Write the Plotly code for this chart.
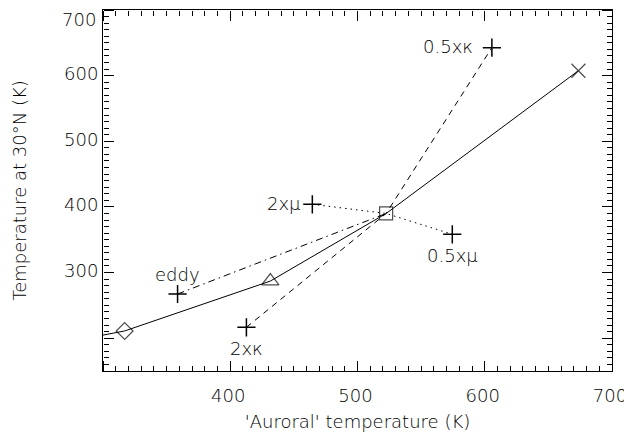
import plotly.graph_objects as go

# Solid reference curve (first point lies just outside the left edge)
solid_x = [290, 317, 431.5, 522.5, 673.6]
solid_y = [201, 211, 287, 390, 607.5]
solid_symbols = ["diamond-open", "triangle-up-open", "square-open", "x-thin-open"]

# Sensitivity runs (through the reference square)
kappa_x = [412.7, 522.5, 605.6]
kappa_y = [216.6, 390, 642.6]
mu_x = [464.5, 522.5, 574.5]
mu_y = [404, 390, 358.3]
eddy_x = [358.6, 522.5]
eddy_y = [267.3, 390]

# Labelled plus points
plus_x = [605.6, 412.7, 358.6, 464.5, 574.5]
plus_y = [642.6, 216.6, 267.3, 404, 358.3]
plus_labels = ["0.5x\u03ba", "2x\u03ba", "eddy", "2x\u03bc", "0.5x\u03bc"]
label_pos = ["left", "below", "above", "left", "below"]

x_range = [300, 700]
y_range = [150, 700]

FONT = "DejaVu Sans"
W = 200
fnt = dict(family=FONT, size=18, color="black", weight=W)
fig = go.Figure()

fig.add_trace(go.Scatter(x=solid_x, y=solid_y, mode="lines",
                         line=dict(color="black", width=1), showlegend=False))
fig.add_trace(go.Scatter(x=kappa_x, y=kappa_y, mode="lines",
                         line=dict(color="black", width=1, dash="6px,5px"), showlegend=False))
fig.add_trace(go.Scatter(x=mu_x, y=mu_y, mode="lines",
                         line=dict(color="black", width=1, dash="1.5px,4px"), showlegend=False))
fig.add_trace(go.Scatter(x=eddy_x, y=eddy_y, mode="lines",
                         line=dict(color="black", width=1, dash="7px,4px,1.5px,4px"), showlegend=False))

sizes = [13, 15, 13, 14]
fig.add_trace(go.Scatter(x=solid_x[1:], y=solid_y[1:], mode="markers",
                         marker=dict(symbol=solid_symbols, size=sizes, color="black",
                                     line=dict(color="black", width=1.2)),
                         showlegend=False))
fig.add_trace(go.Scatter(x=plus_x, y=plus_y, mode="markers",
                         marker=dict(symbol="cross-thin-open", size=13, color="black",
                                     line=dict(color="black", width=1.5)),
                         showlegend=False))
# invisible traces that anchor the tick-only axes
for k in (2, 3, 4, 5):
    fig.add_trace(go.Scatter(x=eddy_x, y=eddy_y, xaxis=f"x{k}", yaxis=f"y{k}", mode="lines",
                             line=dict(width=0), opacity=0, hoverinfo="skip",
                             showlegend=False))

for x, y, t, pos in zip(plus_x, plus_y, plus_labels, label_pos):
    if pos == "left":
        kw = dict(xanchor="right", yanchor="middle", xshift=-17 if t.startswith("0.5") else -9, yshift=1)
    elif pos == "below":
        kw = dict(xanchor="center", yanchor="top", yshift=-9)
    else:
        kw = dict(xanchor="center", yanchor="bottom", yshift=7)
    fig.add_annotation(x=x, y=y, text=t, showarrow=False, font=fnt, **kw)

# top y tick label, drawn slightly below the frame as in the original
fig.add_annotation(x=0, xref="paper", y=y_range[1], yref="y", text=str(y_range[1]),
                   showarrow=False, xanchor="right", yanchor="middle",
                   xshift=-5, yshift=-9, font=fnt)

# Tick-only axes: placed on the opposite side of their "side" so that their
# outward ticks point into the plotting area (IDL-style inward ticks).
tk = dict(showgrid=False, zeroline=False, showline=False, showticklabels=False,
          ticks="outside", tickcolor="#000000", tickwidth=1, tickmode="linear",
          automargin=False, anchor="free")
MAJ = dict(ticklen=10, dtick=100)
MIN = dict(ticklen=5, dtick=10, tick0=0)

fig.update_layout(
    xaxis=dict(range=x_range, tickmode="linear", tick0=300, dtick=100,
               labelalias={300: " "}, side="bottom", ticks="",
               ticklabelstandoff=8, ticklabelshift=-2, tickfont=fnt,
               showline=True, mirror=True, linecolor="#000000", linewidth=1,
               showgrid=False, zeroline=False, automargin=False,
               title=dict(text="'Auroral' temperature (K)", standoff=10, font=fnt)),
    yaxis=dict(range=y_range, tickmode="linear", tick0=200, dtick=100,
               labelalias={200: " ", 700: " "}, side="left", ticks="",
               ticklabelshift=-2, tickfont=fnt,
               showline=True, mirror=True, linecolor="#000000", linewidth=1,
               showgrid=False, zeroline=False, automargin=False,
               title=dict(text="Temperature at 30\u00b0N (K)", standoff=32, font=fnt)),
    # bottom edge, ticks pointing up
    xaxis2=dict(range=x_range, overlaying="x", side="top", position=0, tick0=300, **MAJ, **tk),
    xaxis3=dict(range=x_range, overlaying="x", side="top", position=0, **MIN, **tk),
    # top edge, ticks pointing down
    xaxis4=dict(range=x_range, overlaying="x", side="bottom", position=1, tick0=300, **MAJ, **tk),
    xaxis5=dict(range=x_range, overlaying="x", side="bottom", position=1, **MIN, **tk),
    # left edge, ticks pointing right
    yaxis2=dict(range=y_range, overlaying="y", side="right", position=0, tick0=200, **MAJ, **tk),
    yaxis3=dict(range=y_range, overlaying="y", side="right", position=0, **MIN, **tk),
    # right edge, ticks pointing left
    yaxis4=dict(range=y_range, overlaying="y", side="left", position=1, tick0=200, **MAJ, **tk),
    yaxis5=dict(range=y_range, overlaying="y", side="left", position=1, **MIN, **tk),
)

fig.update_layout(width=624, height=427,
                  margin=dict(l=95, r=20, t=2, b=64, autoexpand=False),
                  plot_bgcolor="white", paper_bgcolor="white", font=fnt)

fig.write_html("out.html")
